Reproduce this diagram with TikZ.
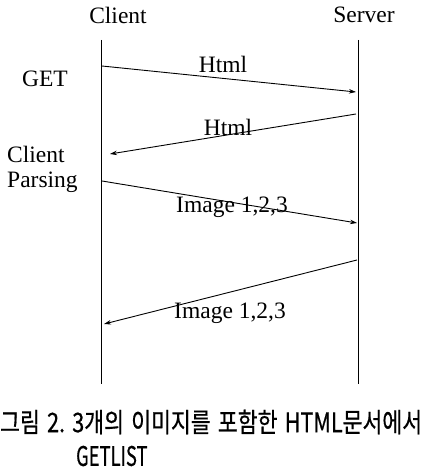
\documentclass[tikz,border=0pt]{standalone}
\usepackage{fontspec}
\setmainfont{Liberation Serif}
\newfontfamily\krfont[FakeBold=0.7]{Noto Sans CJK KR}
\usetikzlibrary{arrows.meta}
\newcommand{\gapsp}{\hspace{9pt}}
\begin{document}
\begin{tikzpicture}[x=1pt,y=-1pt,
  lbl/.style={font=\fontsize{23.5}{25}\selectfont, inner sep=0pt},
  msg/.style={line width=0.9pt, -{Stealth[length=7pt,width=4.5pt]}},
  life/.style={line width=1pt},
  captxt/.style={font=\krfont\fontsize{27}{30}\selectfont, inner sep=0pt, anchor=west, xscale=0.8}]
\useasboundingbox (0,0) rectangle (422,473);
% lifelines
\coordinate (ctop) at (101,40);
\coordinate (cbot) at (101,384);
\coordinate (stop) at (358,40);
\coordinate (sbot) at (358,384);
\draw[life] (ctop) -- (cbot);
\draw[life] (stop) -- (sbot);
% headers
\node[lbl] (client) at (118,15) {Client};
\node[lbl] (server) at (364,15) {Server};
% side labels
\node[lbl] (get) at (45,79) {GET};
\node[lbl, anchor=west, align=left] (parse) at (7,169) {Client\\Parsing};
% message endpoints
\coordinate (a1s) at (102,66);
\coordinate (a1e) at (356,92);
\coordinate (a2s) at (356,114);
\coordinate (a2e) at (110,154);
\coordinate (a3s) at (102,181);
\coordinate (a3e) at (357,223);
\coordinate (a4s) at (357,260);
\coordinate (a4e) at (104,324);
\draw[msg] (a1s) -- (a1e);
\draw[msg] (a2s) -- (a2e);
\draw[msg] (a3s) -- (a3e);
\draw[msg] (a4s) -- (a4e);
\node[lbl] (h1) at (223,64) {Html};
\node[lbl] (h2) at (228,127) {Html};
\node[lbl] (i1) at (232,207) {Image 1,2,3};
\node[lbl] (i2) at (230,313) {Image 1,2,3};
% caption
\node[captxt] (c1) at (0,422) {그림\gapsp 2.\gapsp 3개의\gapsp 이미지를\gapsp 포함한\gapsp HTML문서에서};
\node[captxt, xscale=0.85] (c2) at (76,456) {GETLIST};
\end{tikzpicture}
\end{document}
